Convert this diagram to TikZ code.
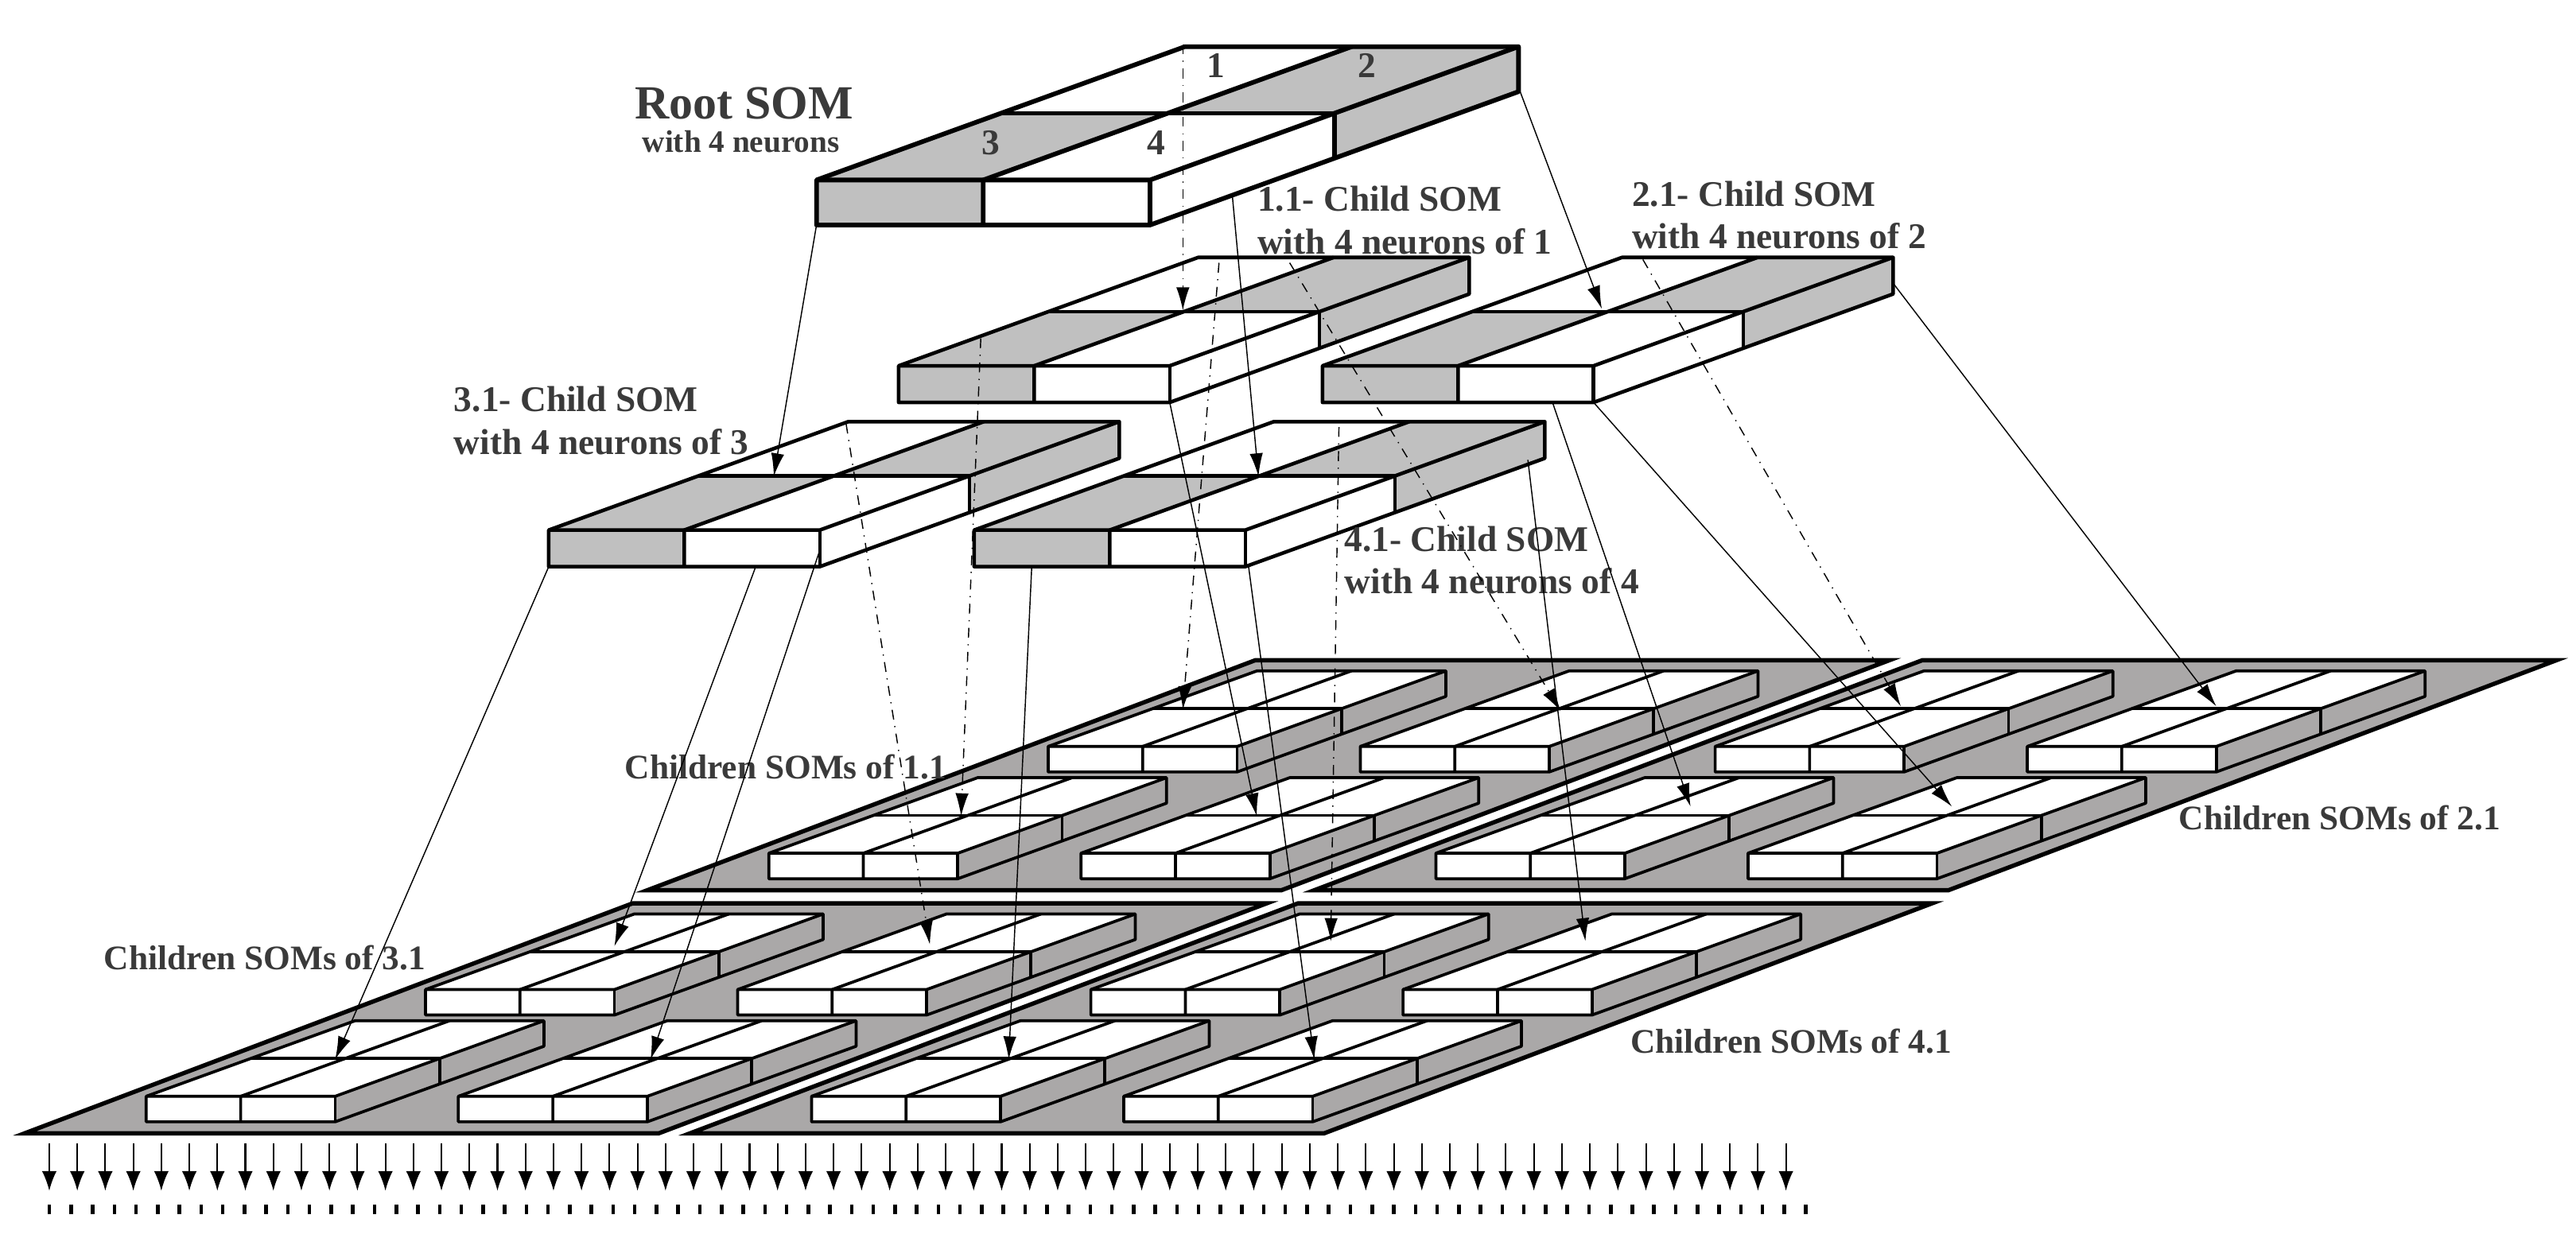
\documentclass[tikz,border=0pt]{standalone}
\usepackage{fontspec}
\setmainfont{Liberation Serif}
\usetikzlibrary{arrows.meta}
\definecolor{somgrey}{HTML}{C0C0C0}
\definecolor{platgrey}{HTML}{AAA8A8}
\definecolor{txt}{HTML}{3A3A3A}
\newcommand\slab[8]{%
\begin{scope}[shift={(#1,#2)},line width=#8,line join=round]
\pgfmathsetmacro\slW{#3}\pgfmathsetmacro\slT{-0.135*#3}\pgfmathsetmacro\slX{1.105*#3}\pgfmathsetmacro\slY{-0.4*#3}
\pgfmathsetmacro\slHW{\slW/2}\pgfmathsetmacro\slHX{\slX/2}\pgfmathsetmacro\slHY{\slY/2}
\fill[#4] (0,\slT)--(\slHW,\slT)--(\slHW+\slHX,\slT+\slHY)--(\slHX,\slT+\slHY)--cycle;
\fill[white] (\slHW,\slT)--(\slW,\slT)--(\slW+\slHX,\slT+\slHY)--(\slHW+\slHX,\slT+\slHY)--cycle;
\fill[white] (\slHX,\slT+\slHY)--(\slHW+\slHX,\slT+\slHY)--(\slHW+\slX,\slT+\slY)--(\slX,\slT+\slY)--cycle;
\fill[#5] (\slHW+\slHX,\slT+\slHY)--(\slW+\slHX,\slT+\slHY)--(\slW+\slX,\slT+\slY)--(\slHW+\slX,\slT+\slY)--cycle;
\fill[#4] (0,0)--(\slHW,0)--(\slHW,\slT)--(0,\slT)--cycle;
\fill[white] (\slHW,0)--(\slW,0)--(\slW,\slT)--(\slHW,\slT)--cycle;
\fill[#6] (\slW,0)--(\slW+\slHX,\slHY)--(\slW+\slHX,\slT+\slHY)--(\slW,\slT)--cycle;
\fill[#7] (\slW+\slHX,\slHY)--(\slW+\slX,\slY)--(\slW+\slX,\slT+\slY)--(\slW+\slHX,\slT+\slHY)--cycle;
\draw (0,0)--(\slW,0)--(\slW+\slX,\slY)--(\slW+\slX,\slT+\slY)--(\slX,\slT+\slY)--(0,\slT)--cycle;
\draw (0,\slT)--(\slW,\slT)--(\slW+\slX,\slT+\slY);
\draw (\slW,0)--(\slW,\slT);
\draw (\slHW,0)--(\slHW,\slT)--(\slHW+\slX,\slT+\slY);
\draw (\slHX,\slT+\slHY)--(\slW+\slHX,\slT+\slHY)--(\slW+\slHX,\slHY);
\end{scope}}
\newcommand\grand[2]{\slab{#1}{#2}{115}{white}{white}{platgrey}{platgrey}{0.9pt}}
\newcommand\plat[2]{%
\filldraw[fill=platgrey,line width=1.3pt,line join=miter] (#1,#2)--++(386,0)--++(370,-140)--++(-386,0)--cycle;
\grand{#1+244}{#2-72}\grand{#1+434}{#2-72}\grand{#1+74}{#2-7}\grand{#1+264}{#2-7}}
\tikzset{
 lab/.style={text=txt,font=\bfseries\fontsize{11}{13}\selectfont,align=left,anchor=west,inner sep=0pt},
 plab/.style={text=txt,font=\bfseries\fontsize{10.5}{12}\selectfont,anchor=west,inner sep=0pt},
 num/.style={text=txt,font=\bfseries\fontsize{11}{12}\selectfont,inner sep=0pt},
 con/.style={line width=0.35pt,-{Latex[length=7pt,width=4pt]}},
 hid/.style={con,dash dot},
 outarrow/.style={line width=0.5pt,-{Latex[length=6pt,width=4.5pt]}}
}
\begin{document}
\begin{tikzpicture}[x=0.5pt,y=-0.5pt]
\useasboundingbox (0,0) rectangle (1568,753.7);
% platforms
\plat{394}{542}\plat{800}{542}
\plat{15}{690}\plat{420}{690}
% child SOMs
\slab{547}{245}{165}{somgrey}{somgrey}{white}{somgrey}{1.1pt}
\slab{805}{245}{165}{somgrey}{somgrey}{white}{somgrey}{1.1pt}
\slab{334}{345}{165}{somgrey}{somgrey}{white}{somgrey}{1.1pt}
\slab{593}{345}{165}{somgrey}{somgrey}{white}{somgrey}{1.1pt}
% root
\slab{497}{137}{203}{somgrey}{somgrey}{white}{somgrey}{1.4pt}
% labels
\node[text=txt,font=\bfseries\fontsize{14.5}{16}\selectfont,inner sep=0pt] (root) at (453,63) {Root SOM};
\node[text=txt,font=\bfseries\fontsize{9.5}{11}\selectfont,inner sep=0pt] (rootw) at (451,86) {with 4 neurons};
\node[num] (n1) at (740,40) {1};
\node[num] (n2) at (832,40) {2};
\node[num] (n3) at (603,87) {3};
\node[num] (n4) at (704,87) {4};
\node[lab] (l11) at (765,134) {1.1- Child SOM\\with 4 neurons of 1};
\node[lab] (l21) at (993,131) {2.1- Child SOM\\with 4 neurons of 2};
\node[lab] (l31) at (276,256) {3.1- Child SOM\\with 4 neurons of 3};
\node[lab] (l41) at (818,341) {4.1- Child SOM\\with 4 neurons of 4};
\node[plab] (p11) at (380,467) {Children SOMs of 1.1};
\node[plab] (p31) at (63,583) {Children SOMs of 3.1};
\node[plab] (p21) at (1326,498) {Children SOMs of 2.1};
\node[plab] (p41) at (992,634) {Children SOMs of 4.1};
% connector end points
\foreach \n/\a/\b in {r1s/720/27,r1e/720/189,r2s/925/55,r2e/975/188,r3s/497/137,r3e/471/290,r4s/750/118,r4e/766/290,
 a1s/597/206,a1e/585/497,a2s/742/160,a2e/720/432,a3s/712/245,a3e/765/497,a4s/785/160,a4e/950/433,
 b1s/945/245,b1e/1029/491,b2s/970/245,b2e/1188/491,b3s/1000/158,b3e/1157/430,b4s/1152/172,b4e/1349/430,
 c1s/334/345,c1e/204/645,c2s/460/345,c2e/374/576,c3s/499/335,c3e/396/645,c4s/515/258,c4e/566/575,
 d1s/628/345,d1e/614/645,d2s/815/260,d2e/810/573,d3s/760/345,d3e/800/645,d4s/930/280,d4e/965/573}
 {\coordinate (\n) at (\a,\b);}
\foreach \p in {r1,a1,a2,a4,b3,c4,d2}{\draw[hid] (\p s) -- (\p e);}
\foreach \p in {r2,r3,r4,a3,b1,b2,b4,c1,c2,c3,d1,d3,d4}{\draw[con] (\p s) -- (\p e);}
% outputs
\foreach \i in {0,...,62}{
 \coordinate (os\i) at (30+17.05*\i,696);
 \coordinate (oe\i) at (30+17.05*\i,725);
 \draw[outarrow] (os\i) -- (oe\i);}
\foreach \i in {0,...,81}{
 \coordinate (ds\i) at (30+13.2*\i,733.5);
 \coordinate (de\i) at (30+13.2*\i,739);
 \draw[line width=1.1pt] (ds\i) -- (de\i);}
\end{tikzpicture}
\end{document}
